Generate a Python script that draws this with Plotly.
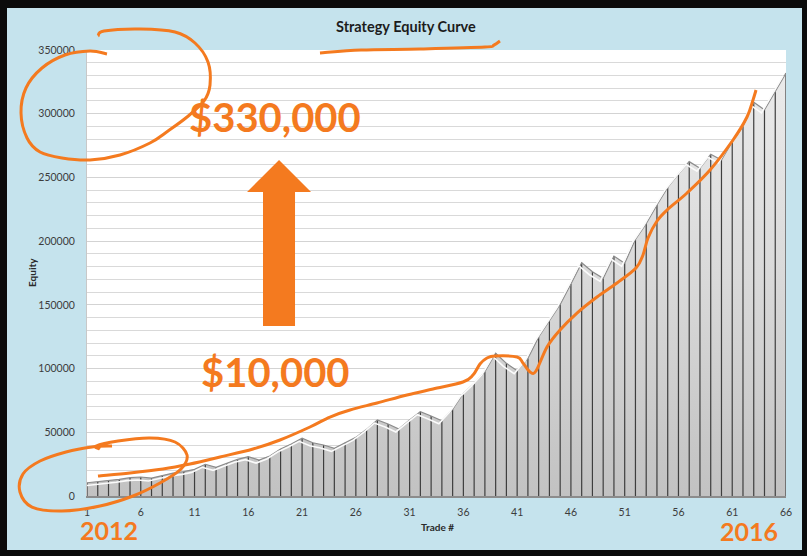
import plotly.graph_objects as go

# ---------------- data ----------------
trades = list(range(1, 67))
equity = [10400, 11200, 11800, 13100, 14400, 14900, 14100, 16200, 18000, 19100,
          20900, 24900, 22500, 25700, 28800, 30900, 28200, 31400, 36900, 40800,
          45300, 41800, 40000, 37400, 41800, 46000, 52300, 59600, 56500, 52600,
          59600, 66200, 62800, 59100, 68000, 80600, 88400, 97500, 112000, 104100,
          98300, 108000, 124800, 137700, 150400, 166400, 183100, 176000, 170800, 188300,
          182600, 201400, 213800, 228400, 242200, 252700, 262400, 257200, 268200, 263700,
          278000, 290000, 309000, 303000, 317000, 332000]
x_tick_vals = list(range(1, 67, 5))
y_tick_vals = list(range(0, 350001, 50000))
title_text = "Strategy Equity Curve"
x_title = "Trade #"
y_title = "Equity"

# ---------------- geometry helpers ----------------
W, H = 807, 556
L, R, T, B = 87, 21, 50, 60
PW, PH = W - L - R, H - T - B
ORANGE = "#f47a1f"
FONT = "Lato"


def px(x):
    return (x - L) / PW


def py(y):
    return (H - B - y) / PH


def smooth_path(pts):
    P = [(px(x), py(y)) for x, y in pts]
    d = f"M {P[0][0]:.4f},{P[0][1]:.4f}"
    n = len(P)
    for i in range(n - 1):
        p0 = P[i - 1] if i > 0 else P[i]
        p1, p2 = P[i], P[i + 1]
        p3 = P[i + 2] if i + 2 < n else P[i + 1]
        c1 = (p1[0] + (p2[0] - p0[0]) / 6, p1[1] + (p2[1] - p0[1]) / 6)
        c2 = (p2[0] - (p3[0] - p1[0]) / 6, p2[1] - (p3[1] - p1[1]) / 6)
        d += (f" C {c1[0]:.4f},{c1[1]:.4f} {c2[0]:.4f},{c2[1]:.4f}"
              f" {p2[0]:.4f},{p2[1]:.4f}")
    return d


def poly_path(pts):
    return "M " + " L ".join(f"{px(x):.4f},{py(y):.4f}" for x, y in pts) + " Z"


YMAX = 350000
val_per_px = YMAX / PH
x_per_px = (trades[-1] - trades[0]) / PW

fig = go.Figure()

# main area (back edge) with drop lines
fig.add_trace(go.Scatter(
    x=trades, y=equity, mode="lines", fill="tozeroy",
    line=dict(color="#8c8c8c", width=1.2),
    fillgradient=dict(type="vertical",
                      colorscale=[[0, "#c2c2c2"], [0.5, "#d9d9d9"], [1, "#ebebeb"]],
                      start=0, stop=335000),
    error_y=dict(type="data", symmetric=False, array=[0] * len(equity),
                 arrayminus=equity, color="#3e3e3e", thickness=1.2, width=0),
    hoverinfo="skip", showlegend=False,
))
# front top edge highlight (3D look), drawn on shifted overlay axes
fig.add_trace(go.Scatter(
    x=trades, y=equity, mode="lines", xaxis="x2", yaxis="y2",
    line=dict(color="#fbfbfb", width=1.6),
    hoverinfo="skip", showlegend=False,
))

axis_font = dict(family=FONT, size=10.5, color="#3c3c3c")

fig.update_layout(
    width=W, height=H,
    margin=dict(l=L, r=R, t=T, b=B, pad=0),
    paper_bgcolor="#c5e3ed",
    plot_bgcolor="#ffffff",
    showlegend=False,
    xaxis=dict(range=[1, 66], tickvals=x_tick_vals, ticks="", showgrid=False,
               zeroline=False, showline=True, linecolor="#8c8c8c", linewidth=1.5,
               tickfont=axis_font, ticklabelstandoff=6, fixedrange=True),
    yaxis=dict(range=[0, YMAX], tickvals=y_tick_vals, tickformat="d", ticks="",
               showgrid=True, gridcolor="#d3d3d3", gridwidth=1, zeroline=False,
               showline=True, linecolor="#c8c8c8", linewidth=1,
               minor=dict(dtick=10000, showgrid=True, gridcolor="#d9d9d9", gridwidth=1),
               tickfont=axis_font, ticklabelstandoff=9, fixedrange=True),
    xaxis2=dict(overlaying="x", range=[1 + 3 * x_per_px, 66 + 3 * x_per_px],
                visible=False, fixedrange=True),
    yaxis2=dict(overlaying="y", range=[3 * val_per_px, YMAX + 3 * val_per_px],
                visible=False, fixedrange=True),
)

shapes = []
# black outer frame
for x0, y0, x1, y1 in [
    (px(0), py(0), px(W), py(8)),          # top
    (px(0), py(550), px(W), py(H)),        # bottom
    (px(0), py(0), px(7), py(H)),          # left
    (px(802), py(0), px(W), py(H)),        # right
]:
    shapes.append(dict(type="rect", xref="paper", yref="paper",
                       x0=x0, y0=y0, x1=x1, y1=y1,
                       fillcolor="#0b0b0b", line=dict(width=0), layer="above"))

stroke = dict(color=ORANGE, width=3)
# big loop around top-left labels
loop_top = [(98, 36), (104, 31), (140, 29), (175, 32), (195, 43), (208, 62), (210, 85),
            (204, 101), (187, 117), (168, 131), (150, 143), (120, 155), (90, 160),
            (62, 158), (40, 152), (27, 138), (21, 113), (26, 88), (42, 68), (65, 55),
            (90, 51), (107, 54)]
# loop around bottom-left
loop_bot = [(100, 449), (96, 446), (118, 441), (150, 438), (175, 442), (187, 455),
            (181, 469), (160, 483), (133, 496), (100, 506), (62, 511), (32, 507),
            (20, 492), (23, 474), (40, 461), (66, 452), (92, 447), (112, 446)]
# underline near title
title_stroke = [(320, 53), (361, 50), (420, 49), (485, 47), (494, 45), (500, 41)]
# hand-drawn trend along the curve
trend = [(98, 476), (130, 473), (163, 469), (190, 464), (220, 457), (253, 449),
         (280, 440), (310, 427), (330, 417), (350, 410), (377, 403), (407, 395),
         (433, 389), (463, 382), (473, 375), (480, 364), (487, 358), (495, 356),
         (517, 357), (523, 363), (530, 372), (536, 371), (547, 347), (560, 330),
         (577, 313), (597, 297), (617, 283), (636, 268), (643, 255), (648, 238),
         (657, 221), (667, 210), (687, 193), (710, 170), (733, 140), (747, 117),
         (753, 100), (756, 90)]
for pts in (loop_top, loop_bot, title_stroke, trend):
    shapes.append(dict(type="path", xref="paper", yref="paper",
                       path=smooth_path(pts), line=stroke, layer="above"))

arrow = [(279, 160), (311, 192), (295, 192), (295, 326), (263, 326), (263, 192), (247, 192)]
shapes.append(dict(type="path", xref="paper", yref="paper", path=poly_path(arrow),
                   fillcolor=ORANGE, line=dict(width=0), layer="above"))

fig.update_layout(shapes=shapes)

annotations = [
    dict(text=f"<b>{title_text}</b>", x=px(406), y=py(27),
         font=dict(family=FONT, size=14.5, color="#1c1c1c")),
    dict(text=f"<b>{x_title}</b>", x=px(437), y=py(527),
         font=dict(family=FONT, size=10, color="#2a2a2a")),
    dict(text=f"<b>{y_title}</b>", x=px(32), y=py(273), textangle=-90,
         font=dict(family=FONT, size=10, color="#2a2a2a")),
    dict(text="<b>$330,000</b>", x=px(275), y=py(117),
         font=dict(family=FONT, size=40, color=ORANGE)),
    dict(text="<b>$10,000</b>", x=px(275), y=py(372),
         font=dict(family=FONT, size=40, color=ORANGE)),
    dict(text="<b>2012</b>", x=px(108.5), y=py(530),
         font=dict(family=FONT, size=25, color=ORANGE)),
    dict(text="<b>2016</b>", x=px(749), y=py(531),
         font=dict(family=FONT, size=25, color=ORANGE)),
]
for a in annotations:
    a.update(xref="paper", yref="paper", showarrow=False,
             xanchor="center", yanchor="middle")
fig.update_layout(annotations=annotations)

fig.write_html(
    "out.html",
    config={"displayModeBar": False},
    post_script="document.body.style.margin='0';document.body.style.background='#0b0b0b';",
)
